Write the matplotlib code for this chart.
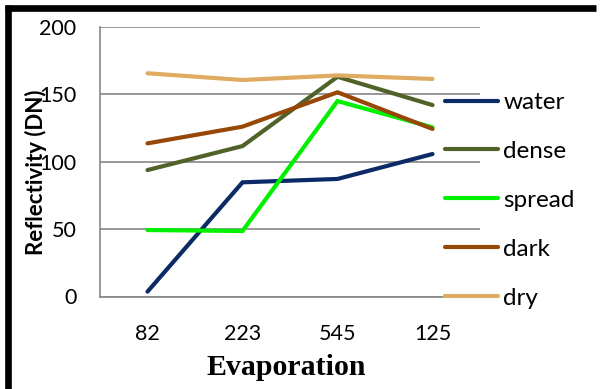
import matplotlib
matplotlib.use("Agg")
import matplotlib.pyplot as plt
from matplotlib.lines import Line2D

# evaporation classes on the x axis
categories = ["82", "223", "545", "125"]

# reflectivity (DN) per surface type
water = [3.6, 84.7, 87.2, 105.7]
dense = [93.8, 111.6, 163.0, 142.0]
spread = [49.3, 48.6, 145.0, 125.5]
dark = [113.6, 126.0, 151.5, 124.3]
dry = [165.6, 160.6, 164.0, 161.4]

series_names = ["water", "dense", "spread", "dark", "dry"]
series_values = [water, dense, spread, dark, dry]
colors = ["#0B2A66", "#4F6228", "#00F000", "#974706", "#DFAA62"]

fig = plt.figure(figsize=(6.0, 3.89), dpi=100)
ax = fig.add_axes([100 / 600, 1 - 296.5 / 389, 380 / 600, (296.5 - 26.9) / 389])

x = list(range(len(categories)))
for name, vals, c in zip(series_names, series_values, colors):
    ax.plot(x, vals, color=c, lw=3.0, solid_capstyle="round",
            solid_joinstyle="miter", label=name, zorder=3)

ax.set_xlim(-0.5, 3.5)
ax.set_ylim(0, 200)
ax.set_yticks([0, 50, 100, 150, 200])
ax.set_xticks(x)
ax.set_xticklabels(categories)
ax.yaxis.grid(True, color="#868686", lw=1.2)
ax.set_axisbelow(True)
for s in ["top", "right"]:
    ax.spines[s].set_visible(False)
for s in ["left", "bottom"]:
    ax.spines[s].set_color("#868686")
    ax.spines[s].set_linewidth(1.2)
ax.tick_params(axis="both", length=0, labelsize=15.5, colors="#000000")
ax.tick_params(axis="y", pad=17)
ax.tick_params(axis="x", pad=20)
for t in ax.get_xticklabels() + ax.get_yticklabels():
    t.set_fontfamily("Lato")

ax.set_xlabel("Evaporation", family="Liberation Serif", fontweight="bold",
              fontsize=21.5)
ax.xaxis.set_label_coords(0.49, -0.215)
fig.text(36 / 600, 1 - 172 / 389, "Reflectivity (DN)", rotation=90,
         ha="center", va="center", family="Lato", fontweight="bold",
         fontsize=16)

leg_handles = [Line2D([], [], color=c, lw=3.0, solid_capstyle="round") for c in colors]
fig.legend(leg_handles, series_names, loc="upper left",
           bbox_to_anchor=(445 / 600, 1 - 92 / 389), frameon=False,
           prop={"family": "Lato", "size": 17.5}, handlelength=2.2,
           handletextpad=0.2, labelspacing=1.15, borderpad=0, borderaxespad=0)

# thick frame along the top and left edges
fig.add_artist(Line2D([5 / 600, 596 / 600], [1 - 8 / 389, 1 - 8 / 389],
                      color="black", lw=4.8, solid_capstyle="butt"))
fig.add_artist(Line2D([8 / 600, 8 / 600], [0, 1 - 5 / 389],
                      color="black", lw=4.8, solid_capstyle="butt"))

fig.savefig("out.png", dpi=100)
